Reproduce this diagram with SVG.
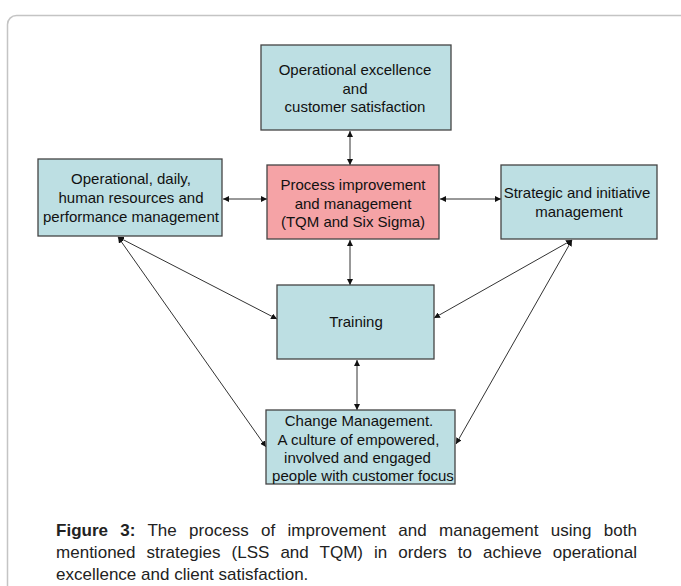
<svg xmlns="http://www.w3.org/2000/svg" width="681" height="586" viewBox="0 0 681 586">
<style>
.box{fill:#bddfe3;stroke:#444;stroke-width:1.3}
.pink{fill:#f5a3a6;stroke:#444;stroke-width:1.3}
.t{font-family:"Liberation Sans",Arial,sans-serif;font-size:15px;fill:#111;text-anchor:middle}
.c{stroke:#333;stroke-width:1;fill:none;marker-start:url(#ah);marker-end:url(#ah)}
.cap{font-family:"Liberation Sans",Arial,sans-serif;font-size:17px;fill:#222}
</style>
<defs>
<marker id="ah" viewBox="0 0 10 10" refX="10" refY="5" markerWidth="6" markerHeight="6" markerUnits="userSpaceOnUse" orient="auto-start-reverse">
<path d="M0,0 L10,5 L0,10 z" fill="#111"/>
</marker>
</defs>
<rect x="0" y="0" width="681" height="586" fill="#fff"/>
<rect x="7.5" y="15.5" width="700" height="620" rx="9" fill="#fff" stroke="#c4c4c4" stroke-width="1.5"/>
<g id="connectors">
<line class="c" x1="350" y1="131" x2="350" y2="165"/>
<line class="c" x1="223" y1="199" x2="267" y2="199"/>
<line class="c" x1="440" y1="199" x2="501" y2="199"/>
<line class="c" x1="350" y1="240" x2="350" y2="285"/>
<line class="c" x1="357" y1="360" x2="357" y2="410"/>
<line class="c" x1="118" y1="237" x2="277" y2="319"/>
<line class="c" x1="118" y1="237" x2="266" y2="447"/>
<line class="c" x1="572" y1="240" x2="434" y2="318"/>
<line class="c" x1="572" y1="240" x2="456" y2="444"/>
</g>
<g id="top">
<rect class="box" x="261" y="45" width="190" height="85"/>
<text class="t" x="355" y="75">Operational excellence</text>
<text class="t" x="355" y="93.5">and</text>
<text class="t" x="355" y="112">customer satisfaction</text>
</g>
<g id="left">
<rect class="box" x="38" y="159" width="184" height="77"/>
<text class="t" x="131" y="184">Operational, daily,</text>
<text class="t" x="131" y="203">human resources and</text>
<text class="t" x="131" y="222">performance management</text>
</g>
<g id="center">
<rect class="pink" x="267" y="165" width="172" height="74"/>
<text class="t" x="353" y="190">Process improvement</text>
<text class="t" x="353" y="208.5">and management</text>
<text class="t" x="353" y="227">(TQM and Six Sigma)</text>
</g>
<g id="right">
<rect class="box" x="501" y="165" width="156" height="74"/>
<text class="t" x="577" y="198">Strategic and initiative</text>
<text class="t" x="579" y="217">management</text>
</g>
<g id="training">
<rect class="box" x="277" y="285" width="157" height="74"/>
<text class="t" x="356" y="327">Training</text>
</g>
<g id="change">
<rect class="box" x="266" y="410" width="189" height="74"/>
<text class="t" x="359" y="426">Change Management.</text>
<text class="t" x="358.5" y="444.5">A culture of empowered,</text>
<text class="t" x="357.5" y="463">involved and engaged</text>
<text class="t" x="363" y="481">people with customer focus</text>
</g>
<g id="caption">
<text class="cap" x="56" y="536" word-spacing="7.5" textLength="581" lengthAdjust="spacing"><tspan font-weight="bold">Figure 3:</tspan> The process of improvement and management using both</text>
<text class="cap" x="56" y="558" word-spacing="6.3" textLength="581" lengthAdjust="spacing">mentioned strategies (LSS and TQM) in orders to achieve operational</text>
<text class="cap" x="56" y="580">excellence and client satisfaction.</text>
</g>
</svg>
